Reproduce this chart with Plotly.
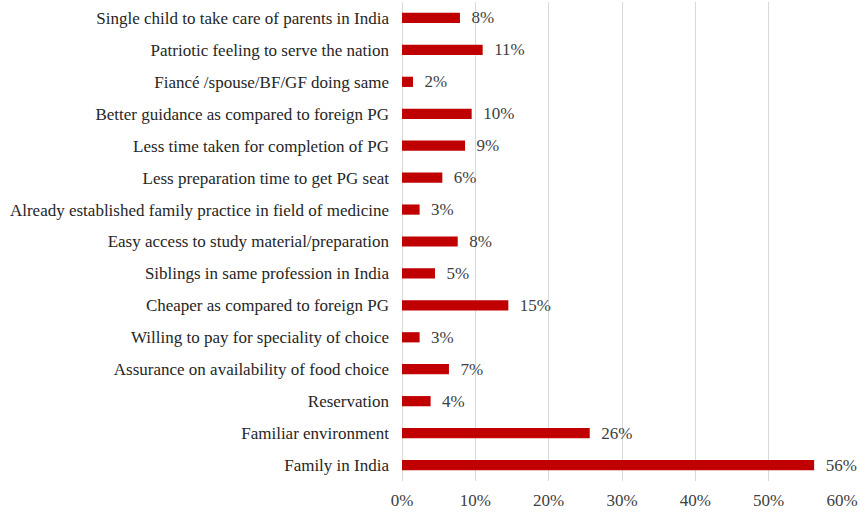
import plotly.graph_objects as go

categories = [
    "Single child to take care of parents in India",
    "Patriotic feeling to serve the nation",
    "Fiancé /spouse/BF/GF doing same",
    "Better guidance as compared to foreign PG",
    "Less time taken for completion of PG",
    "Less preparation time to get PG seat",
    "Already established family practice in field of medicine",
    "Easy access to study material/preparation",
    "Siblings in same profession in India",
    "Cheaper as compared to foreign PG",
    "Willing to pay for speciality of choice",
    "Assurance on availability of food choice",
    "Reservation",
    "Familiar environment",
    "Family in India",
]
values = [7.9, 11.0, 1.5, 9.5, 8.6, 5.5, 2.4, 7.6, 4.5, 14.5, 2.4, 6.4, 3.9, 25.6, 56.2]
labels = ["8%", "11%", "2%", "10%", "9%", "6%", "3%", "8%", "5%", "15%", "3%", "7%", "4%", "26%", "56%"]
x_ticks = [0, 10, 20, 30, 40, 50, 60]
x_tick_text = ["0%", "10%", "20%", "30%", "40%", "50%", "60%"]

font_family = "Liberation Serif, Times New Roman, serif"
FS = 17

fig = go.Figure(
    go.Bar(
        y=categories,
        x=values,
        orientation="h",
        marker=dict(color="#c00000", line=dict(width=0)),
        text=["  " + t for t in labels],
        textposition="outside",
        cliponaxis=False,
        constraintext="none",
        textfont=dict(family=font_family, size=FS, color="#404040"),
        hoverinfo="skip",
    )
)

fig.update_layout(
    width=859,
    height=513,
    margin=dict(l=402, r=17, t=2, b=32, autoexpand=False),
    paper_bgcolor="white",
    plot_bgcolor="white",
    bargap=0.68,
    showlegend=False,
    uniformtext=dict(minsize=FS, mode="show"),
    font=dict(family=font_family, size=FS, color="#262626"),
)
fig.update_xaxes(
    range=[0, 60],
    tickvals=x_ticks,
    ticktext=x_tick_text,
    showgrid=True,
    gridcolor="#d9d9d9",
    gridwidth=1,
    zeroline=True,
    zerolinecolor="#d9d9d9",
    zerolinewidth=1,
    showline=False,
    ticks="",
    automargin=False,
    ticklabelstandoff=7,
    tickfont=dict(family=font_family, size=FS, color="#404040"),
)
fig.update_yaxes(
    autorange="reversed",
    showgrid=False,
    showline=False,
    ticks="",
    automargin=False,
    ticklabelstandoff=12,
    tickfont=dict(family=font_family, size=FS, color="#262626"),
)

fig.write_html(
    "out.html",
    config={"displayModeBar": False},
    post_script="document.body.style.margin='0';document.body.style.overflow='hidden';",
)
